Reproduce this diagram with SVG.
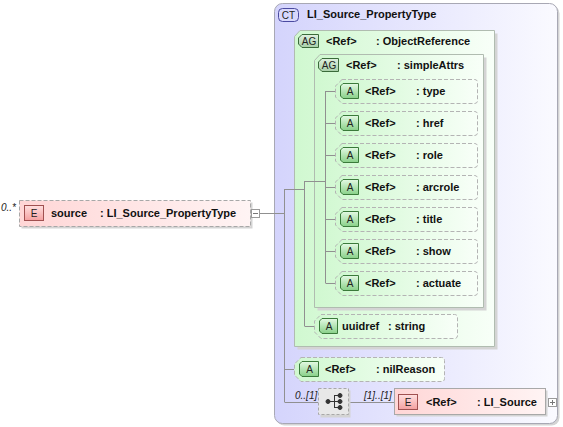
<svg xmlns="http://www.w3.org/2000/svg" width="563" height="427" viewBox="0 0 563 427">
<defs>
  <linearGradient id="ctG" x1="0" y1="0" x2="1" y2="0">
    <stop offset="0" stop-color="#d4d4fc"/>
    <stop offset="1" stop-color="#fafaff"/>
  </linearGradient>
  <linearGradient id="agG" x1="0" y1="0" x2="1" y2="0">
    <stop offset="0" stop-color="#d0f8d0"/>
    <stop offset="1" stop-color="#f8fff8"/>
  </linearGradient>
  <linearGradient id="elG" x1="0" y1="0" x2="1" y2="0">
    <stop offset="0" stop-color="#ffd6d6"/>
    <stop offset="1" stop-color="#fff4f4"/>
  </linearGradient>
  <linearGradient id="bA" x1="0" y1="0" x2="0" y2="1">
    <stop offset="0" stop-color="#e4fae4"/>
    <stop offset="1" stop-color="#88d088"/>
  </linearGradient>
  <linearGradient id="bAG" x1="0" y1="0" x2="0" y2="1">
    <stop offset="0" stop-color="#e0f0e0"/>
    <stop offset="1" stop-color="#a8d0a8"/>
  </linearGradient>
  <linearGradient id="bE" x1="0" y1="0" x2="0" y2="1">
    <stop offset="0" stop-color="#ffe0e0"/>
    <stop offset="1" stop-color="#f4a0a0"/>
  </linearGradient>
</defs>
<style>
  text { font-family: "Liberation Sans", Arial, sans-serif; font-size: 11px; font-weight: bold; fill: #111; }
  .badge { font-size: 10px; font-weight: normal; text-anchor: middle; fill: #222; }
  .card { font-size: 10px; font-style: italic; font-weight: normal; fill: #222; }
  .conn { stroke: #909090; stroke-width: 1; fill: none; }
  .shadow { fill: #d4d4d4; stroke: none; }
  .agbox { fill: url(#agG); stroke: #b0bcb0; stroke-width: 1; }
  .attr { fill: url(#agG); stroke: #b4b4b4; stroke-width: 1; stroke-dasharray: 4 2; }
  .abadge { fill: url(#bA); stroke: #3a7a3a; stroke-width: 1; }
  .agbadge { fill: url(#bAG); stroke: #3a6a3a; stroke-width: 1; }
  .ebadge { fill: url(#bE); stroke: #a05050; stroke-width: 1; }
  .elem { fill: url(#elG); stroke: #a8a8a8; stroke-width: 1; }
  .pm { fill: #fff; stroke: #9a9a9a; stroke-width: 1; }
</style>

<!-- Complex type container -->
<g id="ct">
  <rect x="276.5" y="5.5" width="283" height="420" rx="8" class="shadow"/>
  <rect x="274.5" y="3.5" width="283" height="420" rx="8" fill="url(#ctG)" stroke="#a8a8b4"/>
  <rect x="278.5" y="8.5" width="20" height="13" rx="4" fill="#d8d8fc" stroke="#4a4aa0"/>
  <text x="288.5" y="19" class="badge">CT</text>
  <text x="307" y="18">LI_Source_PropertyType</text>
</g>

<!-- Connectors -->
<g id="connectors">
  <line x1="259" y1="213.5" x2="285" y2="213.5" class="conn"/>
  <line x1="284.5" y1="189" x2="284.5" y2="402" class="conn"/>
  <line x1="284.5" y1="369.5" x2="294" y2="369.5" class="conn"/>
  <line x1="284.5" y1="402.5" x2="318" y2="402.5" class="conn"/>
  <line x1="349" y1="402.5" x2="394" y2="402.5" class="conn"/>
</g>

<!-- AG ObjectReference -->
<g id="ag-objectreference">
  <path d="M 303,33.5 H 497.5 V 349.5 H 297.5 V 39.5 Z" class="shadow"/>
  <path d="M 300,30.5 H 494.5 V 346.5 H 294.5 V 36.5 Z" class="agbox"/>
  <path d="M 302,34.5 H 318.5 V 47.5 H 302 L 298.5,44 V 38 Z" class="agbadge"/>
  <text x="309" y="45" class="badge">AG</text>
  <text x="326" y="44.5">&lt;Ref&gt;</text>
  <text x="376" y="44.5">: ObjectReference</text>
  <g class="inner-conn">
    <line x1="284.5" y1="189.5" x2="304" y2="189.5" class="conn"/>
    <line x1="304.5" y1="181" x2="304.5" y2="326" class="conn"/>
    <line x1="304.5" y1="326.5" x2="314" y2="326.5" class="conn"/>
  </g>
</g>

<!-- AG simpleAttrs -->
<g id="ag-simpleattrs">
  <path d="M 323,57.5 H 486.5 V 310.5 H 317.5 V 63.5 Z" class="shadow"/>
  <path d="M 320,54.5 H 483.5 V 307.5 H 314.5 V 60.5 Z" class="agbox"/>
  <path d="M 322,58.5 H 338.5 V 71.5 H 322 L 318.5,68 V 62 Z" class="agbadge"/>
  <text x="329" y="69" class="badge">AG</text>
  <text x="346" y="68.5">&lt;Ref&gt;</text>
  <text x="397" y="68.5">: simpleAttrs</text>
  <g class="inner-conn">
    <line x1="304.5" y1="181.5" x2="325" y2="181.5" class="conn"/>
    <line x1="325.5" y1="91" x2="325.5" y2="283" class="conn"/>
    <line x1="325.5" y1="91.5" x2="335" y2="91.5" class="conn"/>
    <line x1="325.5" y1="123.5" x2="335" y2="123.5" class="conn"/>
    <line x1="325.5" y1="155.5" x2="335" y2="155.5" class="conn"/>
    <line x1="325.5" y1="187.5" x2="335" y2="187.5" class="conn"/>
    <line x1="325.5" y1="219.5" x2="335" y2="219.5" class="conn"/>
    <line x1="325.5" y1="251.5" x2="335" y2="251.5" class="conn"/>
    <line x1="325.5" y1="283.5" x2="335" y2="283.5" class="conn"/>
  </g>
</g>

<!-- Attributes of simpleAttrs -->
<g id="attr-type">
  <path d="M 342,79.5 H 474.5 Q 477.5,79.5 477.5,82.5 V 100.5 Q 477.5,103.5 474.5,103.5 H 342 L 335.5,97 V 86 Z" class="attr"/>
  <path d="M 343,83.5 H 358.5 V 98.5 H 343 L 340.5,96 V 86 Z" class="abadge"/>
  <text x="350" y="95" class="badge">A</text>
  <text x="365" y="95">&lt;Ref&gt;</text>
  <text x="416" y="95">: type</text>
</g>
<g id="attr-href">
  <path d="M 342,111.5 H 474.5 Q 477.5,111.5 477.5,114.5 V 132.5 Q 477.5,135.5 474.5,135.5 H 342 L 335.5,129 V 118 Z" class="attr"/>
  <path d="M 343,115.5 H 358.5 V 130.5 H 343 L 340.5,128 V 118 Z" class="abadge"/>
  <text x="350" y="127" class="badge">A</text>
  <text x="365" y="127">&lt;Ref&gt;</text>
  <text x="416" y="127">: href</text>
</g>
<g id="attr-role">
  <path d="M 342,143.5 H 474.5 Q 477.5,143.5 477.5,146.5 V 164.5 Q 477.5,167.5 474.5,167.5 H 342 L 335.5,161 V 150 Z" class="attr"/>
  <path d="M 343,147.5 H 358.5 V 162.5 H 343 L 340.5,160 V 150 Z" class="abadge"/>
  <text x="350" y="159" class="badge">A</text>
  <text x="365" y="159">&lt;Ref&gt;</text>
  <text x="416" y="159">: role</text>
</g>
<g id="attr-arcrole">
  <path d="M 342,175.5 H 474.5 Q 477.5,175.5 477.5,178.5 V 196.5 Q 477.5,199.5 474.5,199.5 H 342 L 335.5,193 V 182 Z" class="attr"/>
  <path d="M 343,179.5 H 358.5 V 194.5 H 343 L 340.5,192 V 182 Z" class="abadge"/>
  <text x="350" y="191" class="badge">A</text>
  <text x="365" y="191">&lt;Ref&gt;</text>
  <text x="416" y="191">: arcrole</text>
</g>
<g id="attr-title">
  <path d="M 342,207.5 H 474.5 Q 477.5,207.5 477.5,210.5 V 228.5 Q 477.5,231.5 474.5,231.5 H 342 L 335.5,225 V 214 Z" class="attr"/>
  <path d="M 343,211.5 H 358.5 V 226.5 H 343 L 340.5,224 V 214 Z" class="abadge"/>
  <text x="350" y="223" class="badge">A</text>
  <text x="365" y="223">&lt;Ref&gt;</text>
  <text x="416" y="223">: title</text>
</g>
<g id="attr-show">
  <path d="M 342,239.5 H 474.5 Q 477.5,239.5 477.5,242.5 V 260.5 Q 477.5,263.5 474.5,263.5 H 342 L 335.5,257 V 246 Z" class="attr"/>
  <path d="M 343,243.5 H 358.5 V 258.5 H 343 L 340.5,256 V 246 Z" class="abadge"/>
  <text x="350" y="255" class="badge">A</text>
  <text x="365" y="255">&lt;Ref&gt;</text>
  <text x="416" y="255">: show</text>
</g>
<g id="attr-actuate">
  <path d="M 342,271.5 H 474.5 Q 477.5,271.5 477.5,274.5 V 292.5 Q 477.5,295.5 474.5,295.5 H 342 L 335.5,289 V 278 Z" class="attr"/>
  <path d="M 343,275.5 H 358.5 V 290.5 H 343 L 340.5,288 V 278 Z" class="abadge"/>
  <text x="350" y="287" class="badge">A</text>
  <text x="365" y="287">&lt;Ref&gt;</text>
  <text x="416" y="287">: actuate</text>
</g>

<!-- uuidref -->
<g id="attr-uuidref">
  <path d="M 321,314.5 H 454.5 Q 457.5,314.5 457.5,317.5 V 335.5 Q 457.5,338.5 454.5,338.5 H 321 L 314.5,332 V 321 Z" class="attr"/>
  <path d="M 322,318.5 H 337.5 V 333.5 H 322 L 319.5,331 V 321 Z" class="abadge"/>
  <text x="329" y="330" class="badge">A</text>
  <text x="342" y="330">uuidref</text>
  <text x="388" y="330">: string</text>
</g>

<!-- nilReason -->
<g id="attr-nilreason">
  <path d="M 301,357.5 H 441.5 Q 444.5,357.5 444.5,360.5 V 378.5 Q 444.5,381.5 441.5,381.5 H 301 L 294.5,375 V 364 Z" class="attr"/>
  <path d="M 302,361.5 H 318.5 V 376.5 H 302 L 299.5,374 V 364 Z" class="abadge"/>
  <text x="309.5" y="373" class="badge">A</text>
  <text x="325" y="372.5">&lt;Ref&gt;</text>
  <text x="376" y="372.5">: nilReason</text>
</g>

<!-- sequence -->
<g id="sequence">
  <text x="295" y="399" class="card">0..[1]</text>
  <rect x="320.5" y="390.5" width="30" height="27" class="shadow"/>
  <rect x="318.5" y="388.5" width="30" height="26" fill="#e8e8e8" stroke="#a8a8a8" stroke-dasharray="3 2"/>
  <g stroke="#333" stroke-width="1" fill="#333">
    <line x1="328" y1="401.5" x2="334" y2="401.5"/>
    <line x1="334.5" y1="395" x2="334.5" y2="408"/>
    <line x1="334" y1="395.5" x2="340" y2="395.5"/>
    <line x1="334" y1="401.5" x2="340" y2="401.5"/>
    <line x1="334" y1="407.5" x2="340" y2="407.5"/>
    <circle cx="328" cy="401.5" r="2"/>
    <circle cx="340" cy="395.5" r="2"/>
    <circle cx="340" cy="401.5" r="2"/>
    <circle cx="340" cy="407.5" r="2"/>
  </g>
  <text x="364" y="399" class="card">[1]..[1]</text>
</g>

<!-- LI_Source element -->
<g id="el-li-source">
  <rect x="396.5" y="390.5" width="151" height="26" class="shadow"/>
  <rect x="394.5" y="388.5" width="151" height="26" class="elem"/>
  <rect x="398.5" y="394.5" width="19" height="15" class="ebadge"/>
  <text x="408" y="406" class="badge">E</text>
  <text x="426" y="405.5">&lt;Ref&gt;</text>
  <text x="477" y="405.5">: LI_Source</text>
  <rect x="548.5" y="398.5" width="8" height="8" class="pm"/>
  <line x1="550" y1="402.5" x2="555" y2="402.5" stroke="#777"/>
  <line x1="552.5" y1="400" x2="552.5" y2="405" stroke="#777"/>
</g>

<!-- source element -->
<g id="el-source">
  <text x="1" y="211" class="card">0..*</text>
  <rect x="21.5" y="202.5" width="231" height="26" class="shadow"/>
  <rect x="19.5" y="200.5" width="231" height="26" fill="url(#elG)" stroke="#a8a8a8" stroke-dasharray="4 2"/>
  <rect x="24.5" y="205.5" width="19" height="15" class="ebadge"/>
  <text x="34" y="217" class="badge">E</text>
  <text x="51" y="216.5">source</text>
  <text x="100" y="216.5">: LI_Source_PropertyType</text>
  <rect x="251.5" y="209.5" width="8" height="8" class="pm"/>
  <line x1="253" y1="213.5" x2="258" y2="213.5" stroke="#777"/>
</g>
</svg>
